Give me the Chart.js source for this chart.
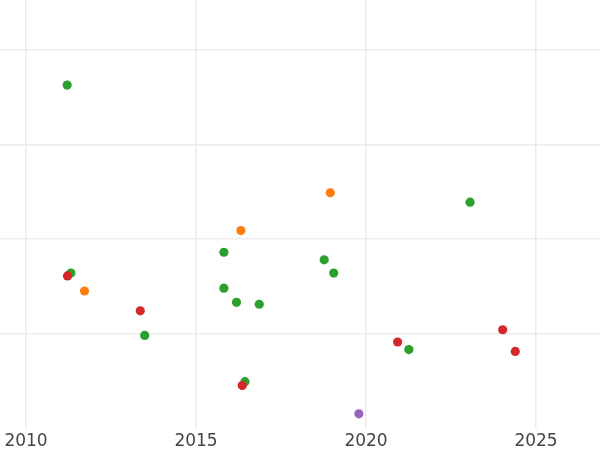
<!DOCTYPE html>
<html>
<head>
<meta charset="utf-8">
<script src="https://cdn.jsdelivr.net/npm/chart.js@4"></script>
<style>
  html, body { margin: 0; padding: 0; background: #fff; }
  #wrap { width: 600px; height: 450px; }
</style>
</head>
<body>
<div id="wrap"><canvas id="scatterChart"></canvas></div>
<script>
// dados (ano, valor)
const redX    = [2011.22, 2013.36, 2016.36, 2020.93, 2024.02, 2024.39];
const redY    = [1.61, 1.24, 0.45, 0.91, 1.04, 0.81];
const orangeX = [2011.72, 2016.32, 2018.95];
const orangeY = [1.45, 2.09, 2.49];
const greenX  = [2011.21, 2011.32, 2013.49, 2015.82, 2015.82, 2016.19, 2016.86, 2016.44, 2018.77, 2019.05, 2021.26, 2023.06];
const greenY  = [3.63, 1.64, 0.98, 1.86, 1.48, 1.33, 1.31, 0.49, 1.78, 1.64, 0.83, 2.39];
const purpleX = [2019.79];
const purpleY = [0.15];

const xTicks = [2010, 2015, 2020, 2025];
const yTicks = [1, 2, 3, 4];

const toPts = (xs, ys) => xs.map((x, i) => ({ x: x, y: ys[i] }));
const ds = (label, xs, ys, color) => ({
    label: label, data: toPts(xs, ys),
    backgroundColor: color, borderColor: color, borderWidth: 0,
    pointRadius: 4.6, pointHoverRadius: 4.6
});

new Chart(document.getElementById('scatterChart').getContext('2d'), {
    type: 'scatter',
    data: {
        // o primeiro dataset fica por cima
        datasets: [
            ds('red', redX, redY, '#d62728'),
            ds('orange', orangeX, orangeY, '#ff7f0e'),
            ds('green', greenX, greenY, '#2ca02c'),
            ds('purple', purpleX, purpleY, '#9467bd')
        ]
    },
    options: {
        responsive: true, maintainAspectRatio: false, animation: false,
        layout: { padding: 0, autoPadding: false },
        plugins: { legend: { display: false }, tooltip: { enabled: false } },
        scales: {
            x: {
                type: 'linear', min: 2009.235, max: 2026.882,
                afterBuildTicks: s => { s.ticks = xTicks.map(v => ({ value: v })); },
                afterFit: s => { s.height = 22; },
                border: { display: false },
                grid: { color: '#ebebeb', lineWidth: 1.5, drawTicks: false },
                ticks: { color: '#444', padding: 3, maxRotation: 0, font: { family: 'DejaVu Sans', size: 17 },
                         callback: v => String(v) }
            },
            y: {
                type: 'linear', min: 0, max: 4.53,
                afterBuildTicks: s => { s.ticks = yTicks.map(v => ({ value: v })); },
                afterFit: s => { s.width = 0; },
                border: { display: false },
                grid: { color: '#ebebeb', lineWidth: 1.5, drawTicks: false },
                ticks: { display: false }
            }
        }
    }
});
</script>
</body>
</html>
